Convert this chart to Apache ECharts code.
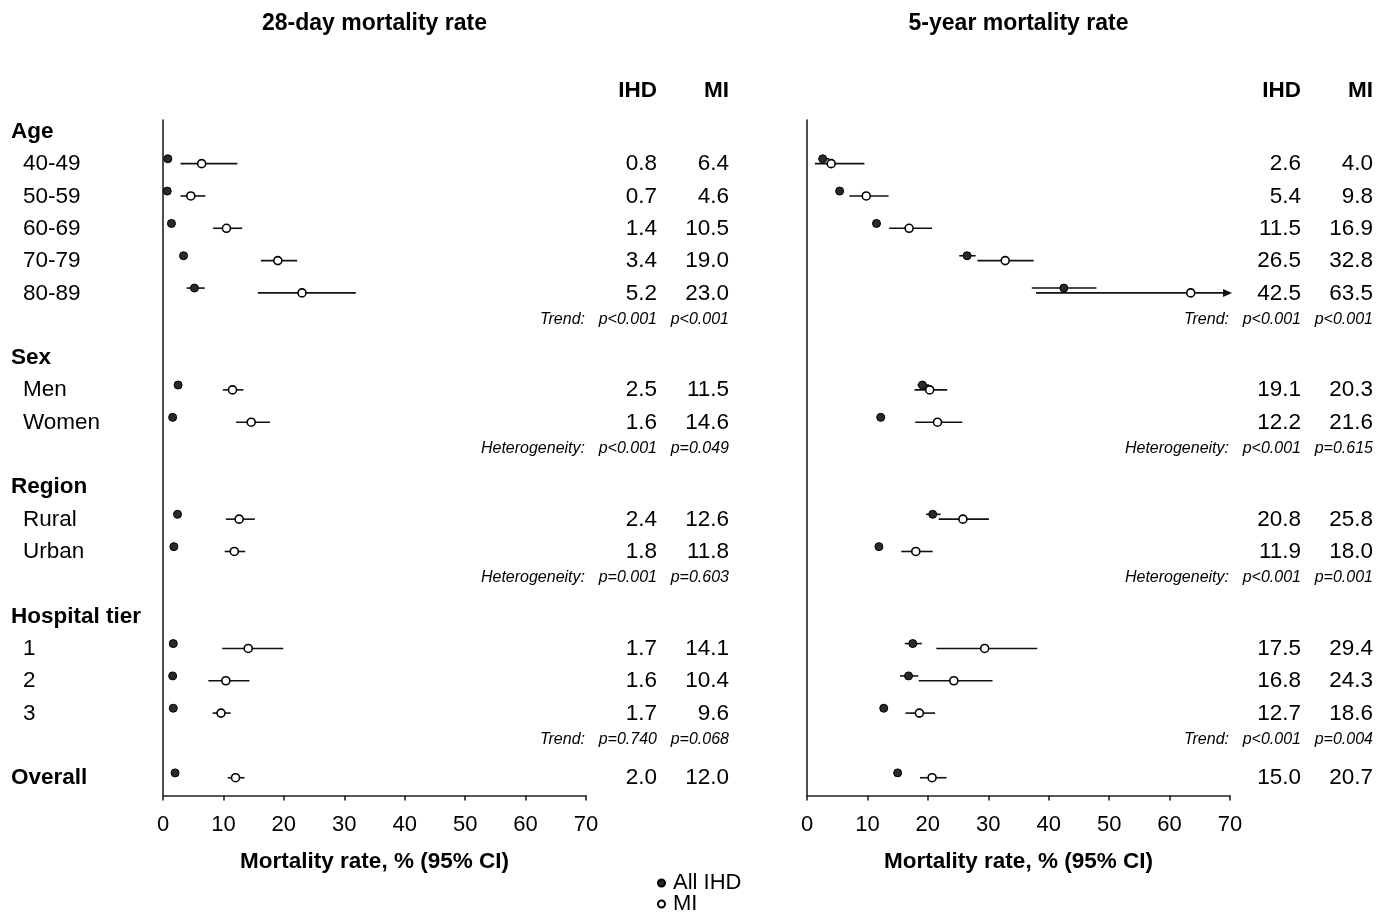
<!DOCTYPE html>
<html>
<head>
<meta charset="utf-8">
<script src="https://cdn.jsdelivr.net/npm/echarts@6/dist/echarts.min.js"></script>
<style>html,body{margin:0;padding:0;background:#fff;}#c{width:1376px;height:913px;}</style>
</head>
<body>
<div id="c"></div>
<script>
// ---------- data ----------
const panelTitles = ["28-day mortality rate", "5-year mortality rate"];
const axisTitle = "Mortality rate, % (95% CI)";
const colHeaders = ["IHD", "MI"];
const legendNames = ["All IHD", "MI"];

const groupLabels = ["Age", "Sex", "Region", "Hospital tier"];
const groupPos = [0, 7, 11, 15];
const rowLabels = ["40-49", "50-59", "60-69", "70-79", "80-89", "Men", "Women", "Rural", "Urban", "1", "2", "3", "Overall"];
const rowPos = [1, 2, 3, 4, 5, 8, 9, 12, 13, 16, 17, 18, 20];
const testLabels = ["Trend:", "Heterogeneity:", "Heterogeneity:", "Trend:"];
const testPos = [5.8, 9.8, 13.8, 18.8];

// 28-day
const ihd28 = [0.8, 0.7, 1.4, 3.4, 5.2, 2.5, 1.6, 2.4, 1.8, 1.7, 1.6, 1.7, 2.0];
const ihd28Lo = [0.6, 0.5, 1.2, 3.0, 3.9, 2.3, 1.4, 2.1, 1.6, 1.4, 1.3, 1.5, 1.8];
const ihd28Hi = [1.1, 0.9, 1.7, 3.9, 6.9, 2.7, 1.9, 2.7, 2.1, 2.0, 1.9, 1.9, 2.2];
const mi28 = [6.4, 4.6, 10.5, 19.0, 23.0, 11.5, 14.6, 12.6, 11.8, 14.1, 10.4, 9.6, 12.0];
const mi28Lo = [2.9, 2.9, 8.3, 16.2, 15.7, 9.9, 12.1, 10.4, 10.2, 9.8, 7.5, 8.2, 10.7];
const mi28Hi = [12.3, 7.0, 13.1, 22.2, 31.9, 13.3, 17.7, 15.2, 13.6, 19.9, 14.3, 11.2, 13.5];
const p28Ihd = ["p<0.001", "p<0.001", "p=0.001", "p=0.740"];
const p28Mi = ["p<0.001", "p=0.049", "p=0.603", "p=0.068"];

// 5-year
const ihd5 = [2.6, 5.4, 11.5, 26.5, 42.5, 19.1, 12.2, 20.8, 11.9, 17.5, 16.8, 12.7, 15.0];
const ihd5Lo = [1.9, 4.9, 10.9, 25.2, 37.2, 18.3, 11.7, 19.7, 11.4, 16.2, 15.4, 12.2, 14.6];
const ihd5Hi = [3.7, 5.9, 12.2, 27.9, 47.9, 20.2, 12.7, 22.1, 12.4, 19.0, 18.4, 13.2, 15.4];
const mi5 = [4.0, 9.8, 16.9, 32.8, 63.5, 20.3, 21.6, 25.8, 18.0, 29.4, 24.3, 18.6, 20.7];
const mi5Lo = [1.3, 7.0, 13.6, 28.2, 37.9, 17.8, 17.9, 21.8, 15.6, 21.4, 18.5, 16.3, 18.7];
const mi5Hi = [9.5, 13.5, 20.7, 37.5, 95.0, 23.2, 25.7, 30.1, 20.8, 38.1, 30.7, 21.2, 23.1];
const p5Ihd = ["p<0.001", "p<0.001", "p<0.001", "p<0.001"];
const p5Mi = ["p<0.001", "p=0.615", "p=0.001", "p=0.004"];

const xTicks = [0, 10, 20, 30, 40, 50, 60, 70];

// ---------- layout ----------
const FONT = '"Liberation Sans", Arial, Helvetica, sans-serif';
const XMIN = 0, XMAX = 70, XSTEP = 10;
const YMIN = -0.3, YMAX = 20.6;
const gridLefts = [163, 807];
const gridTop = 120, gridW = 423, gridH = 675.5;
const IHD_OFF = -0.1, MI_OFF = 0.05;
const HEADER_ROW = -1.27;
const TEXT_DY = 2;

const panels = [
  {ihd: ihd28, ihdLo: ihd28Lo, ihdHi: ihd28Hi, mi: mi28, miLo: mi28Lo, miHi: mi28Hi, pI: p28Ihd, pM: p28Mi, rowLabelsShown: true},
  {ihd: ihd5, ihdLo: ihd5Lo, ihdHi: ihd5Hi, mi: mi5, miLo: mi5Lo, miHi: mi5Hi, pI: p5Ihd, pM: p5Mi, rowLabelsShown: false}
];

function errRender(params, api) {
  const lo = api.value(0), hi = api.value(1), y = api.value(2);
  const p1 = api.coord([Math.max(lo, XMIN), y]);
  const p2 = api.coord([Math.min(hi, XMAX), y]);
  const children = [{
    type: 'line',
    shape: {x1: p1[0], y1: p1[1], x2: p2[0], y2: p2[1]},
    style: {stroke: '#111', lineWidth: 1.6}
  }];
  if (hi > XMAX) {
    children.push({
      type: 'polygon',
      shape: {points: [[p2[0] + 2, p2[1]], [p2[0] - 7, p2[1] - 4], [p2[0] - 7, p2[1] + 4]]},
      style: {fill: '#111'}
    });
  }
  return {type: 'group', children: children};
}

function buildTextItems(p) {
  const items = [];
  items.push({row: HEADER_ROW, text: colHeaders[0], kind: 'hdrI'});
  items.push({row: HEADER_ROW, text: colHeaders[1], kind: 'hdrM'});
  if (p.rowLabelsShown) {
    groupLabels.forEach((g, i) => items.push({row: groupPos[i], text: g, kind: 'group'}));
    rowLabels.forEach((r, i) => items.push({row: rowPos[i], text: r, kind: r === 'Overall' ? 'group' : 'row'}));
  }
  rowPos.forEach((r, i) => {
    items.push({row: r, text: p.ihd[i].toFixed(1), kind: 'numI'});
    items.push({row: r, text: p.mi[i].toFixed(1), kind: 'numM'});
  });
  testPos.forEach((r, i) => {
    items.push({row: r, text: testLabels[i], kind: 'test'});
    items.push({row: r, text: p.pI[i], kind: 'pI'});
    items.push({row: r, text: p.pM[i], kind: 'pM'});
  });
  return items;
}

const BIG = '22.5px ';
const styleByKind = {
  hdrI:  {dx: 494, align: 'right', font: 'bold ' + BIG + FONT},
  hdrM:  {dx: 566, align: 'right', font: 'bold ' + BIG + FONT},
  group: {dx: -152, align: 'left', font: 'bold ' + BIG + FONT},
  row:   {dx: -140, align: 'left', font: BIG + FONT},
  numI:  {dx: 494, align: 'right', font: BIG + FONT},
  numM:  {dx: 566, align: 'right', font: BIG + FONT},
  test:  {dx: 422, align: 'right', font: 'italic 16px ' + FONT},
  pI:    {dx: 494, align: 'right', font: 'italic 16px ' + FONT},
  pM:    {dx: 566, align: 'right', font: 'italic 16px ' + FONT}
};

const grids = [], xAxes = [], yAxes = [], series = [], graphics = [];
panels.forEach((p, k) => {
  grids.push({left: gridLefts[k], top: gridTop, width: gridW, height: gridH, containLabel: false});
  xAxes.push({
    gridIndex: k, type: 'value', min: XMIN, max: XMAX, interval: XSTEP,
    axisLine: {show: true, onZero: false, lineStyle: {color: '#222', width: 1.6}},
    axisTick: {show: true, length: 5, lineStyle: {color: '#222', width: 1.6}},
    axisLabel: {color: '#000', fontSize: 22, fontFamily: FONT, margin: 18,
      formatter: v => (xTicks.indexOf(v) >= 0 ? String(v) : '')},
    splitLine: {show: false},
    name: axisTitle, nameLocation: 'middle', nameGap: 55,
    nameTextStyle: {color: '#000', fontSize: 22.5, fontWeight: 'bold', fontFamily: FONT}
  });
  yAxes.push({
    gridIndex: k, type: 'value', inverse: true, min: YMIN, max: YMAX,
    axisLine: {show: true, onZero: false, lineStyle: {color: '#222', width: 1.6}},
    axisTick: {show: false}, axisLabel: {show: false}, splitLine: {show: false}
  });
  series.push({
    type: 'custom', xAxisIndex: k, yAxisIndex: k, renderItem: errRender, silent: true, z: 2,
    encode: {x: [0, 1], y: 2},
    data: rowPos.map((r, i) => [p.ihdLo[i], p.ihdHi[i], r + IHD_OFF])
  });
  series.push({
    type: 'custom', xAxisIndex: k, yAxisIndex: k, renderItem: errRender, silent: true, z: 2,
    encode: {x: [0, 1], y: 2},
    data: rowPos.map((r, i) => [p.miLo[i], p.miHi[i], r + MI_OFF])
  });
  series.push({
    name: legendNames[0], type: 'scatter', xAxisIndex: k, yAxisIndex: k, z: 4,
    symbol: 'circle', symbolSize: 8,
    itemStyle: {color: '#2a2a2a', borderColor: '#000', borderWidth: 1, opacity: 1},
    data: rowPos.map((r, i) => [p.ihd[i], r + IHD_OFF])
  });
  series.push({
    name: legendNames[1], type: 'scatter', xAxisIndex: k, yAxisIndex: k, z: 5,
    symbol: 'circle', symbolSize: 8,
    itemStyle: {color: '#fff', borderColor: '#000', borderWidth: 1.6, opacity: 1},
    data: rowPos.map((r, i) => [p.mi[i], r + MI_OFF])
  });
  const items = buildTextItems(p);
  series.push({
    type: 'custom', xAxisIndex: k, yAxisIndex: k, silent: true, z: 6, clip: false,
    encode: {x: 0, y: 1},
    data: items.map(it => [XMIN, it.row]),
    renderItem: function (params, api) {
      const it = items[params.dataIndex];
      const st = styleByKind[it.kind];
      const y = api.coord([XMIN, api.value(1)])[1] + TEXT_DY;
      return {
        type: 'text',
        style: {
          x: params.coordSys.x + st.dx, y: y, text: it.text,
          font: st.font, fill: '#000',
          align: st.align, verticalAlign: 'middle',
          textAlign: st.align, textVerticalAlign: 'middle'
        }
      };
    }
  });
  graphics.push({
    type: 'text', x: gridLefts[k] + gridW / 2, y: 24, silent: true,
    style: {text: panelTitles[k], font: 'bold 23px ' + FONT, fill: '#000',
      align: 'center', verticalAlign: 'middle', textAlign: 'center', textVerticalAlign: 'middle'}
  });
});

const legendBase = {
  orient: 'horizontal', left: 657, padding: 0,
  itemWidth: 7, itemHeight: 7, icon: 'circle',
  textStyle: {color: '#000', fontSize: 22, fontFamily: FONT, padding: [0, 0, 0, 3]},
  selectedMode: false
};

const chart = echarts.init(document.getElementById('c'), null, {renderer: 'canvas'});
chart.setOption({
  backgroundColor: '#fff',
  animation: false,
  textStyle: {fontFamily: FONT},
  grid: grids, xAxis: xAxes, yAxis: yAxes, series: series,
  graphic: graphics,
  legend: [
    Object.assign({}, legendBase, {data: [legendNames[0]], top: 872}),
    Object.assign({}, legendBase, {data: [legendNames[1]], top: 893})
  ]
});
</script>
</body>
</html>
